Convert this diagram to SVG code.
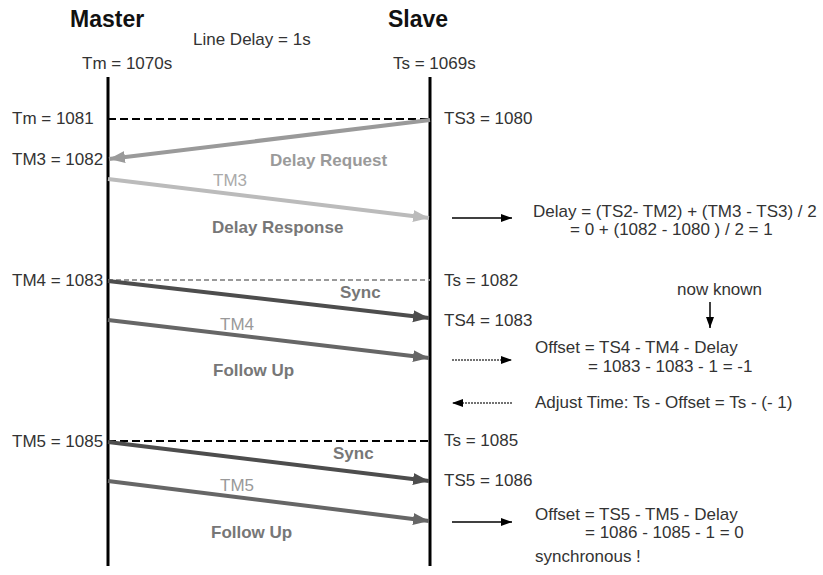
<svg xmlns="http://www.w3.org/2000/svg" width="823" height="575" viewBox="0 0 823 575">
<style>
text { font-family: "Liberation Sans", Arial, sans-serif; font-size: 17px; fill: #333; }
.title { font-size: 23px; font-weight: bold; fill: #111; }
.msg { font-weight: bold; fill: #777; }
.req { font-weight: bold; fill: #9a9a9a; }
.ts { fill: #aaa; }
.tsd { fill: #999; }
.life { stroke: #000; stroke-width: 3; }
.dash { stroke: #000; stroke-width: 2; stroke-dasharray: 8 4; fill: none; }
.dashg { stroke: #999; stroke-width: 2; stroke-dasharray: 5 3; fill: none; }
.a { fill: none; stroke-width: 4; }
.s { fill: none; stroke: #000; stroke-width: 1.5; }
.sd { fill: none; stroke: #444; stroke-width: 1.5; stroke-dasharray: 2 1; }
</style>
<defs>
<marker id="hReq" markerUnits="userSpaceOnUse" markerWidth="18" markerHeight="14" refX="16" refY="6" orient="auto"><path d="M0,0 L16,6 L0,12 z" fill="#9a9a9a"/></marker>
<marker id="hResp" markerUnits="userSpaceOnUse" markerWidth="18" markerHeight="14" refX="16" refY="6" orient="auto"><path d="M0,0 L16,6 L0,12 z" fill="#bbb"/></marker>
<marker id="hSync" markerUnits="userSpaceOnUse" markerWidth="18" markerHeight="14" refX="16" refY="6" orient="auto"><path d="M0,0 L16,6 L0,12 z" fill="#4d4d4d"/></marker>
<marker id="hFol" markerUnits="userSpaceOnUse" markerWidth="18" markerHeight="14" refX="16" refY="6" orient="auto"><path d="M0,0 L16,6 L0,12 z" fill="#666"/></marker>
<marker id="hS" markerUnits="userSpaceOnUse" markerWidth="12" markerHeight="10" refX="11" refY="4" orient="auto"><path d="M0,0 L11,4 L0,8 z" fill="#000"/></marker>
</defs>

<g id="master">
<text class="title" x="70" y="27">Master</text>
<text x="82" y="69">Tm = 1070s</text>
<line class="life" x1="108" y1="77" x2="108" y2="566"/>
</g>
<g id="slave">
<text class="title" x="388" y="27">Slave</text>
<text x="393" y="69">Ts = 1069s</text>
<line class="life" x1="430" y1="77" x2="430" y2="566"/>
</g>
<g id="linedelay"><text x="193" y="45">Line Delay = 1s</text></g>

<g id="labels-master">
<text x="12" y="124">Tm = 1081</text>
<text x="12" y="165">TM3 = 1082</text>
<text x="12" y="286">TM4 = 1083</text>
<text x="12" y="447">TM5 = 1085</text>
</g>
<g id="labels-slave">
<text x="444" y="124">TS3 = 1080</text>
<text x="444" y="286">Ts = 1082</text>
<text x="444" y="326">TS4 = 1083</text>
<text x="444" y="446">Ts = 1085</text>
<text x="444" y="486">TS5 = 1086</text>
</g>

<g id="connectors">
<line class="dash" x1="108" y1="119" x2="430" y2="119"/>
<line class="a" stroke="#9a9a9a" x1="430" y1="120" x2="109" y2="159" marker-end="url(#hReq)"/>
<line class="a" stroke="#bbb" x1="108" y1="179" x2="429" y2="218" marker-end="url(#hResp)"/>
<line class="dashg" x1="108" y1="280" x2="430" y2="280"/>
<line class="a" stroke="#4d4d4d" x1="108" y1="281" x2="429" y2="318" marker-end="url(#hSync)"/>
<line class="a" stroke="#666" x1="108" y1="320" x2="429" y2="358" marker-end="url(#hFol)"/>
<line class="dash" x1="108" y1="441" x2="430" y2="441"/>
<line class="a" stroke="#4d4d4d" x1="108" y1="442" x2="429" y2="481" marker-end="url(#hSync)"/>
<line class="a" stroke="#666" x1="108" y1="481" x2="429" y2="521" marker-end="url(#hFol)"/>
<line class="s" x1="452" y1="218" x2="512" y2="218" marker-end="url(#hS)"/>
<line class="sd" x1="452" y1="360" x2="512" y2="360" marker-end="url(#hS)"/>
<line class="sd" x1="512" y1="403" x2="452" y2="403" marker-end="url(#hS)"/>
<line class="s" x1="452" y1="522" x2="512" y2="522" marker-end="url(#hS)"/>
<line class="s" x1="710" y1="302" x2="710" y2="328" marker-end="url(#hS)"/>
</g>

<g id="msg-labels">
<text class="req" x="270" y="166">Delay Request</text>
<text class="ts" x="213" y="186">TM3</text>
<text class="msg" x="212" y="233">Delay Response</text>
<text class="msg" x="340" y="298">Sync</text>
<text class="tsd" x="220" y="330">TM4</text>
<text class="msg" x="213" y="376">Follow Up</text>
<text class="msg" x="333" y="459">Sync</text>
<text class="tsd" x="220" y="491">TM5</text>
<text class="msg" x="211" y="538">Follow Up</text>
</g>

<g id="notes">
<text x="533" y="217">Delay = (TS2- TM2) + (TM3 - TS3) / 2</text>
<text x="570" y="235">= 0 + (1082 - 1080 ) / 2 = 1</text>
<text x="677" y="295">now known</text>
<text x="535" y="353">Offset = TS4 - TM4 - Delay</text>
<text x="588" y="372">= 1083 - 1083 - 1 = -1</text>
<text x="535" y="408">Adjust Time: Ts - Offset = Ts - (- 1)</text>
<text x="535" y="520">Offset = TS5 - TM5 - Delay</text>
<text x="585" y="538">= 1086 - 1085 - 1 = 0</text>
<text x="535" y="562">synchronous !</text>
</g>
</svg>
